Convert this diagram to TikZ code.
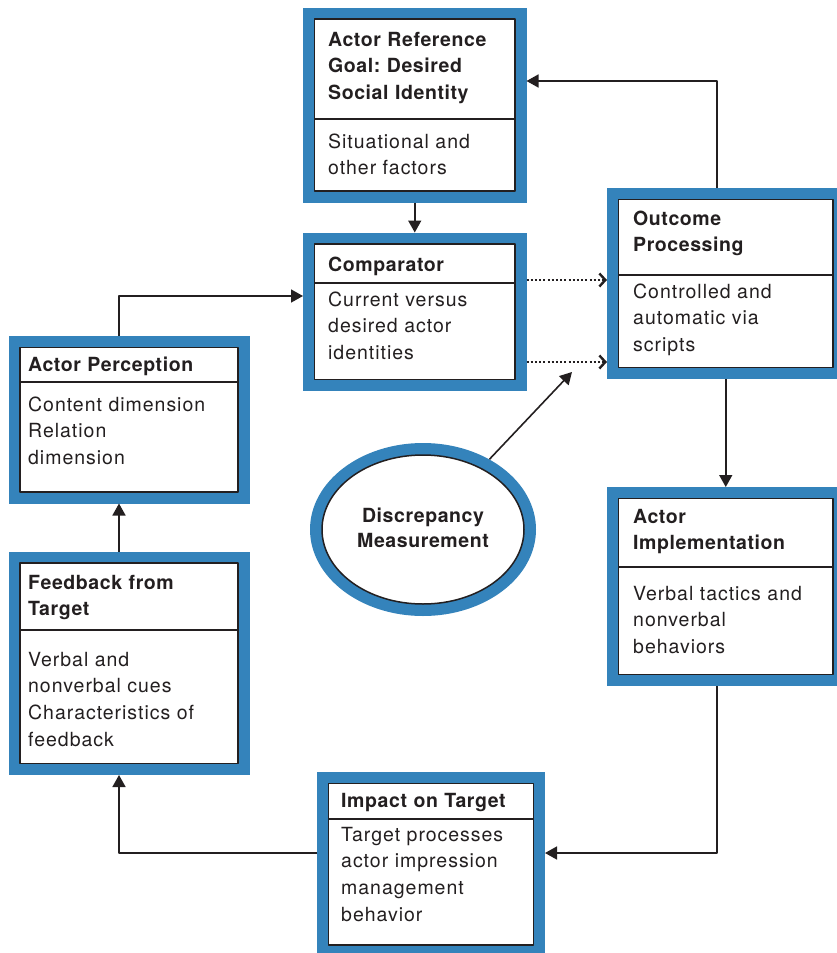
\documentclass[tikz,border=0pt]{standalone}
\usepackage{fontspec}
\setmainfont{TeX Gyre Heros}[LetterSpace=5, BoldFeatures={LetterSpace=3}]
\frenchspacing
\usetikzlibrary{arrows.meta,shapes.geometric}
\definecolor{frameblue}{RGB}{52,131,187}
\definecolor{ink}{RGB}{35,31,32}
% blue frame, white inner box and divider
\newcommand{\panelbox}[6]{% name, left, top, right, bottom, divider
	\node[panel, minimum width={#4-#2}, minimum height={#5-#3}] (#1) at ({(#2+#4)/2},{(#3+#5)/2}) {};
	\draw[inner, fill=white] ({#2+11.5},{#3+11.5}) rectangle ({#4-11.5},{#5-11.5});
	\draw[inner] ({#2+11.5},#6) -- ({#4-11.5},#6);}
\begin{document}
\begin{tikzpicture}[x=1pt, y=-1pt, line join=round,
	panel/.style={rectangle, fill=frameblue, inner sep=0, outer sep=0},
	inner/.style={draw=ink, line width=1.7pt},
	head/.style={anchor=base west, inner sep=0, text width=230, align=left, text=ink, font=\fontsize{19.5}{26.7}\selectfont\bfseries},
	body/.style={head, font=\fontsize{19.5}{26.7}\selectfont},
	arr/.style={draw=ink, line width=1.6pt, -{Triangle[length=12pt,width=13pt]}},
	dotarr/.style={draw=ink, line width=1.8pt, dash pattern=on 2pt off 2.2pt, -{Straight Barb[length=6pt,width=13pt,line width=2.4pt]}}]
	\useasboundingbox (0,0) rectangle (836,953);
	% boxes
	\panelbox{goal}{303}{7.5}{526.5}{202.5}{119}
	\panelbox{compar}{303}{232.5}{526.5}{391}{283}
	\panelbox{outcome}{607}{188}{844.5}{379}{275}
	\panelbox{implement}{607}{487}{844.5}{686}{567}
	\panelbox{impact}{317}{772}{545}{956.5}{819}
	\panelbox{perception}{8.5}{336}{249.5}{503.5}{382}
	\panelbox{feedback}{8.5}{551.5}{249.5}{775}{630}
	% texts
	\node[head] (goalhead) at (328,46) {Actor Reference\\Goal: Desired\\Social Identity};
	\node[body] (goalbody) at (328,148) {Situational and\\other factors};
	\node[head] (comparhead) at (328,271) {Comparator};
	\node[body] (comparbody) at (328,306) {Current versus\\desired actor\\identities};
	\node[head] (outcomehead) at (633,225) {Outcome\\Processing};
	\node[body] (outcomebody) at (633,298) {Controlled and\\automatic via\\scripts};
	\node[head] (implementhead) at (633,523) {Actor\\Implementation};
	\node[body] (implementbody) at (633,600) {Verbal tactics and\\nonverbal\\behaviors};
	\node[head] (impacthead) at (341,807) {Impact on Target};
	\node[body] (impactbody) at (341,841) {Target processes\\actor impression\\management\\behavior};
	\node[head] (perceptionhead) at (28,371) {Actor Perception};
	\node[body] (perceptionbody) at (28,411) {Content dimension\\Relation\\dimension};
	\node[head] (feedbackhead) at (28,589) {Feedback from\\Target};
	\node[body] (feedbackbody) at (28,666) {Verbal and\\nonverbal cues\\Characteristics of\\feedback};
	% discrepancy oval
	\node[ellipse, fill=frameblue, inner sep=0, minimum width=226, minimum height=173] (discrep) at (423,529.5) {};
	\node[ellipse, draw=ink, fill=white, line width=1.5pt, inner sep=0, minimum width=202, minimum height=149] (discrepin) at (discrep.center) {};
	\node[anchor=base, inner sep=0, text width=200, align=center, text=ink, font=\fontsize{19.5}{25}\selectfont\bfseries] (discreptext) at (423,522) {Discrepancy\\Measurement};
	\coordinate (gapend) at (572,372);
	% connectors
	\draw[arr] (goal) -- (compar);
	\draw[arr] ([xshift=-8.75pt]outcome.north) |- ([yshift=24pt]goal.east);
	\draw[dotarr] ([yshift=31.75pt]compar.east) -- ([yshift=31.75pt]compar.east -| outcome.west);
	\draw[dotarr] ([yshift=-50.25pt]compar.east) -- ([yshift=-50.25pt]compar.east -| outcome.west);
	\draw[arr] (discrep) -- (gapend);
	\draw[arr] (outcome) -- (implement);
	\draw[arr] ([xshift=-8.75pt]implement.south) |- ([yshift=11.25pt]impact.east);
	\draw[arr] ([yshift=11.25pt]impact.west) -| ([xshift=-10pt]feedback.south);
	\draw[arr] ([xshift=-10pt]feedback.north) -- ([xshift=-10pt]perception.south);
	\draw[arr] ([xshift=-10pt]perception.north) |- ([yshift=15.75pt]compar.west);
\end{tikzpicture}
\end{document}
